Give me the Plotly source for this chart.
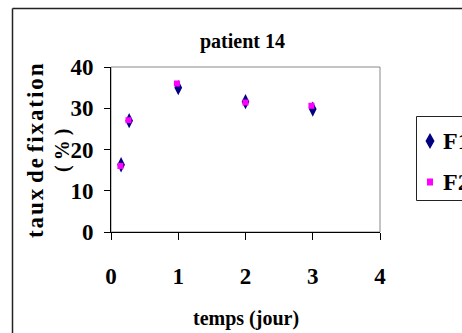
import plotly.graph_objects as go

# data
f1_x = [0.15, 0.27, 1.0, 2.0, 3.0]
f1_y = [16.3, 27.0, 35.0, 31.6, 29.8]
f2_x = [0.14, 0.26, 0.98, 2.0, 2.98]
f2_y = [16.0, 27.1, 36.0, 31.4, 30.6]
x_ticks = [0, 1, 2, 3, 4]
y_ticks = [0, 10, 20, 30, 40]
series_names = ["F1", "F2"]
series_colors = ["#000080", "#FF00FF"]

FONT = "Liberation Serif"
W, H = 462, 333
L, R, T, B = 111, 82, 67, 101
pw, ph = W - L - R, H - T - B

def px_x(x):
    return (x - L) / pw

def px_y(y):
    return (H - B - y) / ph

def spaced(word):
    return "\u200a".join(word)

fig = go.Figure()
fig.add_trace(go.Scatter(x=f1_x, y=f1_y, mode="markers", name=series_names[0],
                         marker=dict(symbol="diamond-tall", size=11, color=series_colors[0])))
fig.add_trace(go.Scatter(x=f2_x, y=f2_y, mode="markers", name=series_names[1],
                         marker=dict(symbol="square", size=6, color=series_colors[1])))

def path(points):
    s = "M " + " L ".join(f"{px_x(a):.5f},{px_y(b):.5f}" for a, b in points) + " Z"
    return s

# manual legend geometry (pixels)
lx0, ly0, ly1 = 416.5, 116.5, 200.5
diamond = [(430, 133), (434.5, 141), (430, 149), (425.5, 141)]
square = [(427, 178.5), (433, 178.5), (433, 185.5), (427, 185.5)]

ylab1 = " ".join(spaced(w) for w in ["taux", "de", "fixation"])
ylab2 = "( % )"

fig.update_layout(
    width=W, height=H,
    margin=dict(l=L, r=R, t=T, b=B, autoexpand=False),
    paper_bgcolor="white", plot_bgcolor="white",
    font=dict(family=FONT, color="black"),
    showlegend=False,
    xaxis=dict(range=[0, 4], tickvals=x_ticks, ticks="outside", ticklen=7, tickcolor="black",
               showline=True, linecolor="black", linewidth=1, showgrid=False, zeroline=False,
               tickfont=dict(family=FONT, size=23, color="black", weight="bold"),
               ticklabelstandoff=16),
    yaxis=dict(range=[0, 40], tickvals=y_ticks, ticks="outside", ticklen=6, tickcolor="black",
               showline=True, linecolor="black", linewidth=1, showgrid=False, zeroline=False,
               tickfont=dict(family=FONT, size=23, color="black", weight="bold"),
               ticklabelstandoff=6),
    shapes=[
        dict(type="rect", xref="paper", yref="paper", x0=0, x1=1, y0=0, y1=1,
             line=dict(color="#888888", width=1), layer="below"),
        dict(type="line", xref="paper", yref="paper", x0=px_x(12.5), x1=px_x(470),
             y0=px_y(8.5), y1=px_y(8.5), line=dict(color="#222222", width=1.5)),
        dict(type="line", xref="paper", yref="paper", x0=px_x(12.5), x1=px_x(12.5),
             y0=px_y(8.5), y1=px_y(340), line=dict(color="#222222", width=1.5)),
        dict(type="rect", xref="paper", yref="paper", x0=px_x(lx0), x1=px_x(470),
             y0=px_y(ly1), y1=px_y(ly0), line=dict(color="#222222", width=1),
             fillcolor="white"),
        dict(type="path", xref="paper", yref="paper", path=path(diamond),
             fillcolor=series_colors[0], line=dict(width=0)),
        dict(type="path", xref="paper", yref="paper", path=path(square),
             fillcolor=series_colors[1], line=dict(width=0)),
    ],
    annotations=[
        dict(text="<b>patient 14</b>", xref="paper", yref="paper", x=px_x(242), y=px_y(42),
             showarrow=False, font=dict(family=FONT, size=20), xanchor="center", yanchor="middle"),
        dict(text="<b>temps (jour)</b>", xref="paper", yref="paper", x=px_x(246), y=px_y(318),
             showarrow=False, font=dict(family=FONT, size=20), xanchor="center", yanchor="middle"),
        dict(text=f"<b>{ylab1}</b>", xref="paper", yref="paper",
             x=px_x(35), y=px_y(151), textangle=-90, showarrow=False,
             font=dict(family=FONT, size=23), xanchor="center", yanchor="middle"),
        dict(text=f"<b>{ylab2}</b>", xref="paper", yref="paper",
             x=px_x(62), y=px_y(151), textangle=-90, showarrow=False,
             font=dict(family=FONT, size=20), xanchor="center", yanchor="middle"),
        dict(text=f"<b>{series_names[0]}</b>", xref="paper", yref="paper",
             x=px_x(441), y=px_y(141), showarrow=False, xanchor="left", yanchor="middle",
             font=dict(family=FONT, size=24)),
        dict(text=f"<b>{series_names[1]}</b>", xref="paper", yref="paper",
             x=px_x(441), y=px_y(182), showarrow=False, xanchor="left", yanchor="middle",
             font=dict(family=FONT, size=24)),
    ],
)

fig.write_html("out.html")
